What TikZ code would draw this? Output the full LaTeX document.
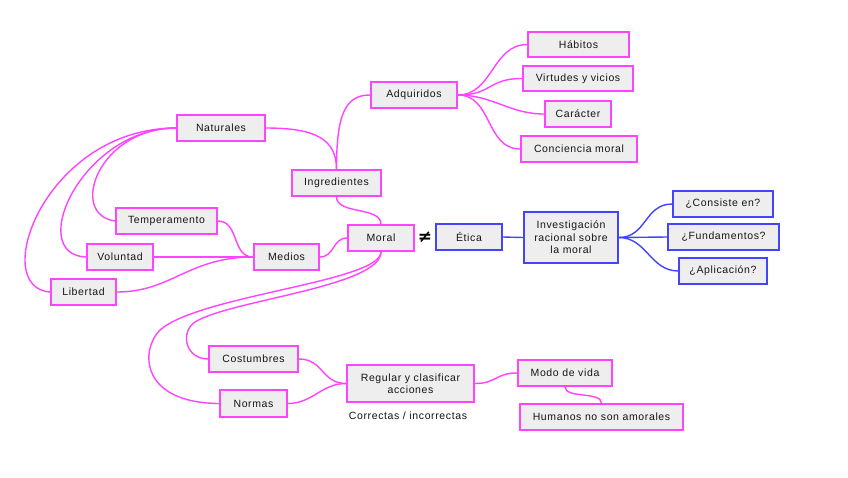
\documentclass[tikz,border=0pt]{standalone}
\usepackage{fontspec}
\setmainfont{Liberation Sans}[LetterSpace=6]
\newfontfamily\djv{DejaVu Sans}
\definecolor{mag}{HTML}{FF44FF}
\definecolor{blu}{HTML}{4444FF}
\definecolor{boxfill}{HTML}{EEEEEE}
\definecolor{txt}{HTML}{151515}
\pgfdeclarelayer{paper}
\pgfdeclarelayer{links}
\pgfsetlayers{paper,links,main}
\tikzset{
  mnode/.style={draw=mag, fill=boxfill, line width=1.5pt, inner sep=0pt, minimum height=26pt,
    text=txt, font=\fontsize{10.5}{12.5}\selectfont, align=center},
  bnode/.style={mnode, draw=blu},
  mline/.style={draw=mag, line width=1.4pt},
  bline/.style={draw=blu, line width=1.4pt},
}
\begin{document}
\begin{tikzpicture}[x=1pt,y=-1pt]
\useasboundingbox (0,0) rectangle (848,477);
\begin{pgfonlayer}{paper}
\fill[white] (0,0) rectangle (848,477);
\end{pgfonlayer}

% nodes
\node[mnode, minimum width=101pt, minimum height=25pt] (hab) at (578.5,44.5) {Hábitos};
\node[mnode, minimum width=110pt, minimum height=25pt] (vir) at (578,78.5) {Virtudes y vicios};
\node[mnode, minimum width=66pt] (car) at (578,114) {Carácter};
\node[mnode, minimum width=116pt] (con) at (579,149) {Conciencia moral};
\node[mnode, minimum width=86pt] (adq) at (414,95) {Adquiridos};
\node[mnode, minimum width=88pt] (nat) at (221,128) {Naturales};
\node[mnode, minimum width=89pt] (ing) at (336.5,183) {Ingredientes};
\node[mnode, minimum width=101pt] (tem) at (166.5,221) {Temperamento};
\node[mnode, minimum width=66pt] (vol) at (120,257) {Voluntad};
\node[mnode, minimum width=65pt] (med) at (286.5,257) {Medios};
\node[mnode, minimum width=66pt] (mor) at (381,238) {Moral};
\node[font=\djv\fontsize{17}{17}\selectfont\bfseries, inner sep=0pt] (neq) at (425,237) {≠};
\node[bnode, minimum width=66pt] (eti) at (469,237) {Ética};
\node[bnode, minimum width=94pt, minimum height=51pt] (inv) at (571,237.5) {Investigación\\racional sobre\\la moral};
\node[bnode, minimum width=100pt] (cons) at (723,204) {¿Consiste en?};
\node[bnode, minimum width=111pt] (fund) at (723.5,237) {¿Fundamentos?};
\node[bnode, minimum width=88pt] (apl) at (723,271) {¿Aplicación?};
\node[mnode, minimum width=65pt] (lib) at (83.5,292) {Libertad};
\node[mnode, minimum width=89pt] (cos) at (253.5,359) {Costumbres};
\node[mnode, minimum width=67pt, minimum height=27pt] (nor) at (253.5,403.5) {Normas};
\node[mnode, minimum width=127pt, minimum height=37pt] (reg) at (410.5,383.5) {Regular y clasificar\\acciones};
\node[text=txt, font=\fontsize{10.5}{12}\selectfont, inner sep=0pt] (cor) at (408,415.5) {Correctas / incorrectas};
\node[mnode, minimum width=94pt] (mod) at (565,373) {Modo de vida};
\node[mnode, minimum width=163pt] (hum) at (601.5,417) {Humanos no son amorales};

\begin{pgfonlayer}{links}
% magenta connectors
\draw[mline] (mor.north) .. controls +(0,-18) and +(0,18) .. (ing.south);
\draw[mline] (ing.north) .. controls +(0,-30) and +(50,0) .. (nat.east);
\draw[mline] (ing.north) .. controls +(0,-55) and +(-25,0) .. (adq.west);
\draw[mline] (adq.east) .. controls +(35,0) and +(-35,0) .. (hab.west);
\draw[mline] (adq.east) .. controls +(35,0) and +(-35,0) .. (vir.west);
\draw[mline] (adq.east) .. controls +(35,0) and +(-35,0) .. (car.west);
\draw[mline] (adq.east) .. controls +(35,0) and +(-35,0) .. (con.west);
\draw[mline] (nat.west) .. controls (98,128) and (68,215) .. (tem.west);
\draw[mline] (nat.west) .. controls (82,128) and (25,255) .. (vol.west);
\draw[mline] (nat.west) .. controls (45,128) and (-12,288) .. (lib.west);
\draw[mline] (tem.east) .. controls +(22,0) and +(-22,0) .. (med.west);
\draw[mline] (vol.east) -- (med.west);
\draw[mline] (lib.east) .. controls +(55,0) and +(-65,0) .. (med.west);
\draw[mline] (mor.west) .. controls +(-15,0) and +(15,0) .. (med.east);
\coordinate (cA) at (160,330);
\coordinate (cB) at (195,322);
\draw[mline] (mor.south) .. controls +(0,30) and (200,295) .. (cA) .. controls (140,350) and (140,403) .. (nor.west);
\draw[mline] (mor.south) .. controls +(0,35) and (230,300) .. (cB) .. controls (180,332) and (185,359) .. (cos.west);
\draw[mline] (reg.west) .. controls +(-25,0) and +(25,0) .. (cos.east);
\draw[mline] (reg.west) .. controls +(-25,0) and +(25,0) .. (nor.east);
\draw[mline] (reg.east) .. controls +(22,0) and +(-22,0) .. (mod.west);
\draw[mline] (mod.south) .. controls +(0,12) and +(0,-12) .. (hum.north);
% blue connectors
\draw[bline] (eti.east) -- (inv.west);
\draw[bline] (inv.east) .. controls +(28,0) and +(-28,0) .. (cons.west);
\draw[bline] (inv.east) -- (fund.west);
\draw[bline] (inv.east) .. controls +(28,0) and +(-28,0) .. (apl.west);
\end{pgfonlayer}
\end{tikzpicture}
\end{document}
